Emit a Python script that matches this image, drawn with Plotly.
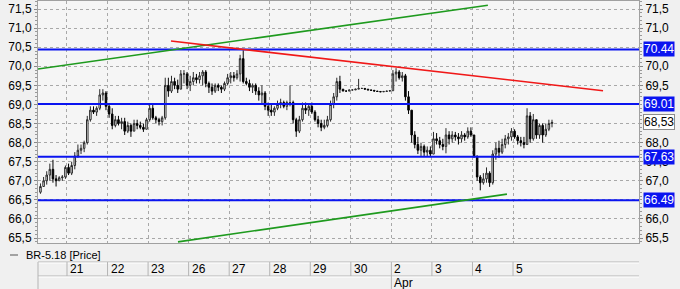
import plotly.graph_objects as go

# ---------------- data ----------------
day_labels = ["21", "22", "23", "26", "27", "28", "29", "30", "2", "3", "4", "5"]
month_label = "Apr"
month_day_index = 8  # "2" is the first April day

first_open = 66.7
# closes / highs / lows per trading session (hourly-ish candles)
c20 = [66.85, 67.0, 67.15, 67.3, 67.05, 67.0, 67.08, 67.1, 67.35]
h20 = [66.93, 67.1, 67.25, 67.45, 67.55, 67.15, 67.12, 67.15, 67.4]
l20 = [66.66, 66.84, 66.9, 67.0, 66.95, 66.85, 67.0, 67.0, 67.05]

c21 = [67.2, 67.4, 67.65, 67.8, 67.85, 68.0, 68.6, 68.85, 68.8, 68.9, 69.25, 69.3, 68.95]
h21 = [67.45, 67.5, 67.75, 67.95, 67.95, 68.05, 68.7, 68.95, 68.95, 68.95, 69.4, 69.4, 69.35]
l21 = [67.15, 67.15, 67.3, 67.6, 67.7, 67.75, 67.95, 68.55, 68.75, 68.7, 68.85, 69.1, 68.85]

c22 = [68.75, 68.45, 68.6, 68.5, 68.55, 68.3, 68.45, 68.3, 68.5, 68.45, 68.4, 68.35, 68.6]
h22 = [69.0, 68.9, 68.7, 68.7, 68.65, 68.65, 68.55, 68.5, 68.6, 68.6, 68.55, 68.5, 68.65]
l22 = [68.65, 68.35, 68.4, 68.45, 68.35, 68.2, 68.25, 68.15, 68.3, 68.35, 68.35, 68.28, 68.35]

c23 = [68.9, 68.65, 68.6, 68.55, 68.65, 69.5, 69.35, 69.6, 69.5, 69.4, 69.8, 69.8, 69.5]
h23 = [69.0, 69.0, 68.7, 68.65, 68.7, 69.7, 69.7, 69.75, 69.7, 69.65, 69.9, 69.9, 69.85]
l23 = [68.55, 68.6, 68.5, 68.45, 68.45, 68.6, 69.2, 69.3, 69.4, 69.3, 69.4, 69.55, 69.4]

c26 = [69.6, 69.7, 69.65, 69.75, 69.85, 69.55, 69.45, 69.35, 69.5, 69.45, 69.4, 69.55, 69.7]
h26 = [69.75, 69.85, 69.8, 69.85, 69.9, 69.9, 69.6, 69.55, 69.55, 69.55, 69.5, 69.6, 69.8]
l26 = [69.35, 69.5, 69.55, 69.55, 69.5, 69.45, 69.3, 69.25, 69.3, 69.35, 69.3, 69.35, 69.5]

c27 = [69.75, 69.7, 69.8, 70.2, 69.6, 69.55, 69.45, 69.5, 69.35, 69.25, 69.3, 68.95, 68.85]
h27 = [69.85, 69.85, 69.9, 70.3, 70.42, 69.7, 69.65, 69.55, 69.55, 69.45, 69.5, 69.35, 69.05]
l27 = [69.55, 69.6, 69.65, 69.6, 69.55, 69.5, 69.35, 69.3, 69.25, 69.1, 69.0, 68.85, 68.7]

c28 = [68.8, 68.9, 69.0, 69.05, 68.95, 69.05, 69.05, 68.6, 68.3, 68.6, 68.9, 68.85, 68.95]
h28 = [69.0, 68.95, 69.1, 69.15, 69.1, 69.1, 69.5, 69.1, 68.65, 68.7, 69.05, 69.05, 69.0]
l28 = [68.7, 68.7, 68.85, 68.9, 68.9, 68.85, 68.95, 68.5, 68.15, 68.25, 68.55, 68.75, 68.7]

c29 = [68.8, 68.6, 68.5, 68.4, 68.45, 68.6, 69.0, 69.2, 69.6, 69.4, 69.35, 69.35, 69.38]
h29 = [69.05, 68.85, 68.7, 68.6, 68.6, 68.7, 69.1, 69.3, 69.7, 69.75, 69.4, 69.36, 69.38]
l29 = [68.75, 68.55, 68.4, 68.3, 68.35, 68.4, 68.55, 68.9, 69.1, 69.3, 69.35, 69.34, 69.35]

c30 = [69.38, 69.4, 69.42, 69.42, 69.4, 69.38, 69.37, 69.35, 69.34, 69.33, 69.34, 69.35, 69.36]
h30 = [69.39, 69.41, 69.67, 69.43, 69.43, 69.4, 69.38, 69.37, 69.35, 69.34, 69.34, 69.35, 69.36]
l30 = [69.37, 69.38, 69.4, 69.41, 69.4, 69.38, 69.37, 69.35, 69.34, 69.33, 69.33, 69.34, 69.35]

c02 = [69.8, 69.85, 69.7, 69.75, 69.2, 68.85, 68.2, 67.95, 67.8, 67.9, 67.75, 67.8, 67.7]
h02 = [69.9, 69.95, 69.9, 69.85, 69.8, 69.35, 68.85, 68.3, 68.15, 68.0, 67.95, 67.9, 67.9]
l02 = [69.35, 69.6, 69.65, 69.6, 69.1, 68.75, 68.0, 67.85, 67.7, 67.65, 67.65, 67.65, 67.62]

c03 = [68.1, 68.05, 67.95, 67.9, 68.2, 68.1, 68.2, 68.15, 68.1, 68.2, 68.15, 68.3, 68.2]
h03 = [68.28, 68.25, 68.15, 68.1, 68.38, 68.3, 68.3, 68.28, 68.25, 68.3, 68.25, 68.4, 68.4]
l03 = [67.7, 67.95, 67.85, 67.8, 67.72, 67.95, 68.0, 68.05, 67.95, 68.0, 68.05, 68.1, 68.15]

c04 = [67.65, 67.1, 66.95, 67.05, 67.2, 66.95, 67.7, 67.85, 67.75, 67.95, 68.1, 68.15, 68.3]
h04 = [68.2, 67.65, 67.15, 67.2, 67.35, 67.25, 67.8, 68.0, 68.05, 68.1, 68.2, 68.25, 68.38]
l04 = [67.6, 67.0, 66.75, 66.9, 66.95, 66.84, 66.9, 67.55, 67.6, 67.7, 67.85, 67.95, 68.05]

c05 = [68.15, 68.05, 68.0, 67.95, 68.7, 68.1, 68.6, 68.2, 68.45, 68.2, 68.35, 68.5, 68.53]
h05 = [68.35, 68.2, 68.15, 68.15, 68.9, 68.8, 68.75, 68.6, 68.5, 68.5, 68.5, 68.6, 68.6]
l05 = [68.1, 67.95, 67.9, 67.85, 67.95, 68.0, 68.05, 68.1, 68.1, 68.0, 68.15, 68.3, 68.4]

# horizontal support / resistance levels
levels = [70.44, 69.01, 67.63, 66.49]
last_price = 68.53

# price-axis ticks
y_ticks = [65.5, 66.0, 66.5, 67.0, 67.5, 68.0, 68.5, 69.0, 69.5, 70.0, 70.5, 71.0, 71.5]
# right-axis ticks that stay visible (others sit under the level labels)
y_ticks_right = [65.5, 66.0, 67.0, 67.5, 68.0, 69.5, 70.0, 71.0, 71.5]

# trend lines: (x in day units, price)
green_upper = [(0.285, 69.93), (11.38, 71.60)]
green_lower = [(3.737, 65.40), (11.85, 66.65)]
red_line = [(3.565, 70.66), (14.22, 69.36)]

series_name = "BR-5.18 [Price]"

# ---------------- assemble ----------------
closes = c20 + c21 + c22 + c23 + c26 + c27 + c28 + c29 + c30 + c02 + c03 + c04 + c05
highs = h20 + h21 + h22 + h23 + h26 + h27 + h28 + h29 + h30 + h02 + h03 + h04 + h05
lows = l20 + l21 + l22 + l23 + l26 + l27 + l28 + l29 + l30 + l02 + l03 + l04 + l05
opens = [first_open] + closes[:-1]

PER_DAY = 13
n_first = len(c20)
xs = [1 + (k - n_first + 0.5) / PER_DAY for k in range(len(closes))]

X_RANGE = [0.285, 15.107]
Y_RANGE = [65.37, 71.71]
FONT = "Liberation Sans, Arial, sans-serif"
GRID = "#a8a8a8"
BLUE = "#0a14f0"
FS = 11

fig = go.Figure()
fig.add_trace(go.Candlestick(
    x=xs, open=opens, high=highs, low=lows, close=closes,
    increasing=dict(line=dict(color="#2a2a2a", width=1), fillcolor="#ffffff"),
    decreasing=dict(line=dict(color="#000000", width=1), fillcolor="#000000"),
    whiskerwidth=0, showlegend=False, hoverinfo="skip",
))
# invisible point so the right-hand axis is drawn
fig.add_trace(go.Scatter(x=[xs[-1]], y=[closes[-1]], yaxis="y2", mode="markers",
                         marker=dict(opacity=0), showlegend=False, hoverinfo="skip"))

shapes = []
for lv in levels:
    shapes.append(dict(type="line", xref="paper", x0=0, x1=1, yref="y", y0=lv, y1=lv,
                       line=dict(color=BLUE, width=2), layer="above"))
for (p0, p1), col in [(green_upper, "#1e9a1e"), (green_lower, "#1e9a1e"), (red_line, "#f01818")]:
    shapes.append(dict(type="line", xref="x", yref="y", x0=p0[0], y0=p0[1], x1=p1[0], y1=p1[1],
                       line=dict(color=col, width=1.6), layer="above"))

# bottom date strip (paper coordinates below the plot)
H_PLOT = 242.0
def py(px):  # pixel row -> paper y
    return (243 - px) / H_PLOT

BOX = "#b4b4b4"
for yy in (262, 276):
    shapes.append(dict(type="line", xref="paper", x0=0, x1=1, yref="paper", y0=py(yy), y1=py(yy),
                       line=dict(color=BOX, width=1)))
    shapes.append(dict(type="line", xref="paper", x0=0, x1=1, yref="paper", y0=py(yy + 1), y1=py(yy + 1),
                       line=dict(color="#ffffff", width=1)))
shapes.append(dict(type="line", xref="paper", x0=0, x1=0, yref="paper", y0=py(262), y1=py(289),
                   line=dict(color=BOX, width=1)))
for i in range(len(day_labels)):
    bottom = py(289) if i == month_day_index else py(276)
    shapes.append(dict(type="line", xref="x", x0=i + 1, x1=i + 1, yref="paper", y0=py(262), y1=bottom,
                       line=dict(color=BOX, width=1)))
# legend dash
shapes.append(dict(type="line", xref="paper", x0=(10 - 38) / 601, x1=(18 - 38) / 601, yref="paper",
                   y0=py(255), y1=py(255), line=dict(color="#555555", width=1)))

annotations = []
for i, lab in enumerate(day_labels):
    annotations.append(dict(x=i + 1, xref="x", y=py(269), yref="paper", text=lab, showarrow=False,
                            xanchor="left", yanchor="middle", xshift=1,
                            font=dict(family=FONT, size=FS + 1, color="#000")))
annotations.append(dict(x=month_day_index + 1, xref="x", y=py(283), yref="paper", text=month_label,
                        showarrow=False, xanchor="left", yanchor="middle", xshift=1,
                        font=dict(family=FONT, size=FS + 1, color="#000")))
annotations.append(dict(x=(24 - 38) / 601, xref="paper", y=py(255), yref="paper", text=series_name,
                        showarrow=False, xanchor="left", yanchor="middle",
                        font=dict(family=FONT, size=FS, color="#000")))
for lv in levels:
    annotations.append(dict(x=1, xref="paper", y=lv, yref="y", text=f"{lv:.2f}", showarrow=False,
                            xanchor="left", yanchor="middle", xshift=4, bgcolor=BLUE, borderpad=0,
                            font=dict(family=FONT, size=FS + 1, color="#ffffff")))
annotations.append(dict(x=1, xref="paper", y=last_price, yref="y", text=f"{last_price:.2f}".replace(".", ","),
                        showarrow=False, xanchor="left", yanchor="middle", xshift=4, bgcolor="#ffffff",
                        bordercolor="#8c8c8c", borderwidth=1, borderpad=0,
                        font=dict(family=FONT, size=FS + 1, color="#000")))

yaxis_common = dict(range=Y_RANGE, tickformat=".1f", ticks="outside", ticklen=3,
                    tickcolor="#888888", tickfont=dict(family=FONT, size=FS + 1, color="#000"),
                    minor=dict(dtick=0.1, tick0=65.5, ticks="outside", ticklen=2, tickcolor="#999999",
                               showgrid=False),
                    zeroline=False, fixedrange=True, tickmode="array")

fig.update_layout(
    width=680, height=289,
    margin=dict(l=38, r=41, t=1, b=46),
    paper_bgcolor="#f0f0f0", plot_bgcolor="#f5f5f5",
    separators=",.",
    showlegend=False,
    xaxis=dict(range=X_RANGE, tickvals=list(range(1, len(day_labels) + 1)), showticklabels=False,
               ticks="", showgrid=True, gridcolor=GRID, griddash="dot", gridwidth=1,
               showline=True, linecolor="#a0a0a0", mirror=True, zeroline=False,
               rangeslider=dict(visible=False), fixedrange=True),
    yaxis=dict(**yaxis_common, tickvals=y_ticks, side="left", showgrid=True, gridcolor=GRID,
               griddash="dot", showline=True, linecolor="#a0a0a0", mirror=True),
    yaxis2=dict(**yaxis_common, tickvals=y_ticks_right, side="right", overlaying="y",
                showgrid=False, showline=False),
    shapes=shapes,
    annotations=annotations,
)

fig.write_html("out.html")
